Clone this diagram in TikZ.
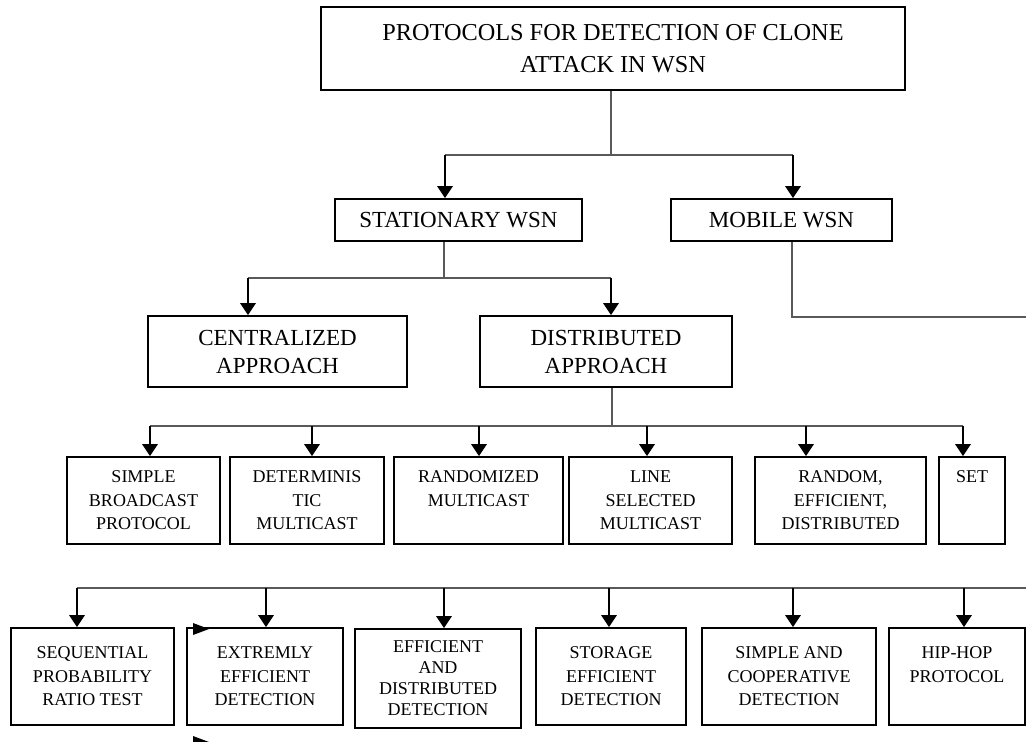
\documentclass[tikz,border=0pt]{standalone}
\usepackage{fontspec}
\setmainfont{Liberation Serif}
\usetikzlibrary{arrows.meta}

\begin{document}
\begin{tikzpicture}[x=1pt,y=-1pt,
    box/.style={draw,line width=1.6pt,inner sep=0pt,align=center},
    bus/.style={line width=1.3pt,black!65},
    arr/.style={line width=2.8pt,-{Triangle[width=15pt,length=12pt]}},
    big/.style={font=\fontsize{24.3}{32}\selectfont},
    mid/.style={font=\fontsize{23}{28}\selectfont},
    small/.style={font=\fontsize{18}{23.5}\selectfont}]
    \useasboundingbox (0,0) rectangle (1026,742);

    \node[box,big,minimum width=584pt,minimum height=83pt] (root) at (613,48.5) {PROTOCOLS FOR DETECTION OF CLONE\\ATTACK IN WSN};
    \node[box,mid,minimum width=247pt,minimum height=42pt] (stat) at (458.5,220) {STATIONARY WSN};
    \node[box,mid,minimum width=221pt,minimum height=42pt] (mob) at (781.5,220) {MOBILE WSN};
    \node[box,mid,minimum width=259pt,minimum height=71pt] (cen) at (277.5,351.5) {CENTRALIZED\\APPROACH};
    \node[box,mid,minimum width=252pt,minimum height=71pt] (dis) at (606,351.5) {DISTRIBUTED\\APPROACH};

    \node[box,small,minimum width=153pt,minimum height=87pt] (sbp) at (143.5,500.5) {SIMPLE\\BROADCAST\\PROTOCOL};
    \node[box,small,minimum width=154pt,minimum height=87pt] (dm) at (307,500.5) {DETERMINIS\\TIC\\MULTICAST};
    \node[box,small,minimum width=169pt,minimum height=87pt] (rm) at (478.5,500.5) {RANDOMIZED\\MULTICAST\\~};
    \node[box,small,minimum width=163pt,minimum height=87pt] (lsm) at (650.5,500.5) {LINE\\SELECTED\\MULTICAST};
    \node[box,small,minimum width=171pt,minimum height=87pt] (red) at (840.5,500.5) {RANDOM,\\EFFICIENT,\\DISTRIBUTED};
    \node[box,small,minimum width=66pt,minimum height=87pt] (set) at (972,500.5) {SET\\~\\~};

    \node[box,small,minimum width=163pt,minimum height=97pt] (sprt) at (92.5,676.5) {SEQUENTIAL\\PROBABILITY\\RATIO TEST};
    \node[box,small,minimum width=156pt,minimum height=97pt] (eed) at (265,676.5) {EXTREMLY\\EFFICIENT\\DETECTION};
    \node[box,small,font=\fontsize{18}{21}\selectfont,minimum width=166pt,minimum height=99pt] (edd) at (438,678.5) {EFFICIENT\\AND\\DISTRIBUTED\\DETECTION};
    \node[box,small,minimum width=150pt,minimum height=97pt] (sed) at (611,676.5) {STORAGE\\EFFICIENT\\DETECTION};
    \node[box,small,minimum width=174pt,minimum height=97pt] (scd) at (789,676.5) {SIMPLE AND\\COOPERATIVE\\DETECTION};
    \node[box,small,minimum width=136pt,minimum height=97pt] (hh) at (957,676.5) {HIP-HOP\\PROTOCOL\\~};

    \coordinate (j0) at (611,155);
    \coordinate (j0l) at (445,155);
    \coordinate (j0r) at (793,155);
    \draw[bus] (j0 |- root.south) -- (j0);
    \draw[bus] (j0l) -- (j0r);
    \draw[arr] (j0l) -- (j0l |- stat.north);
    \draw[arr] (j0r) -- (j0r |- mob.north);

    \coordinate (j1) at (444,278);
    \coordinate (j1l) at (248,278);
    \coordinate (j1r) at (611,278);
    \draw[bus] (j1 |- stat.south) -- (j1);
    \draw[bus] (j1l) -- (j1r);
    \draw[arr] (j1l) -- (j1l |- cen.north);
    \draw[arr] (j1r) -- (j1r |- dis.north);

    \coordinate (j2) at (792,317);
    \coordinate (j2e) at (1026,317);
    \draw[bus] (j2 |- mob.south) -- (j2) -- (j2e);

    \coordinate (j3) at (612,426);
    \coordinate (j3l) at (150,426);
    \coordinate (j3r) at (963,426);
    \draw[bus] (j3 |- dis.south) -- (j3);
    \draw[bus] (j3l) -- (j3r);
    \foreach \n/\x in {sbp/150,dm/312,rm/479,lsm/647,red/806,set/963} {
        \coordinate (t\n) at (\x,426);
        \draw[arr] (t\n) -- (t\n |- \n.north);
    }

    \coordinate (j4l) at (77,588);
    \coordinate (j4r) at (1026,588);
    \draw[bus] (j4l) -- (j4r);
    \foreach \n/\x in {sprt/77,eed/266,edd/444,sed/609,scd/793,hh/964} {
        \coordinate (t\n) at (\x,588);
        \draw[arr] (t\n) -- (t\n |- \n.north);
    }

    \fill (193,623) -- (209,629) -- (193,635) -- cycle;
    \fill (193,736) -- (209,742) -- (193,748) -- cycle;
\end{tikzpicture}
\end{document}
